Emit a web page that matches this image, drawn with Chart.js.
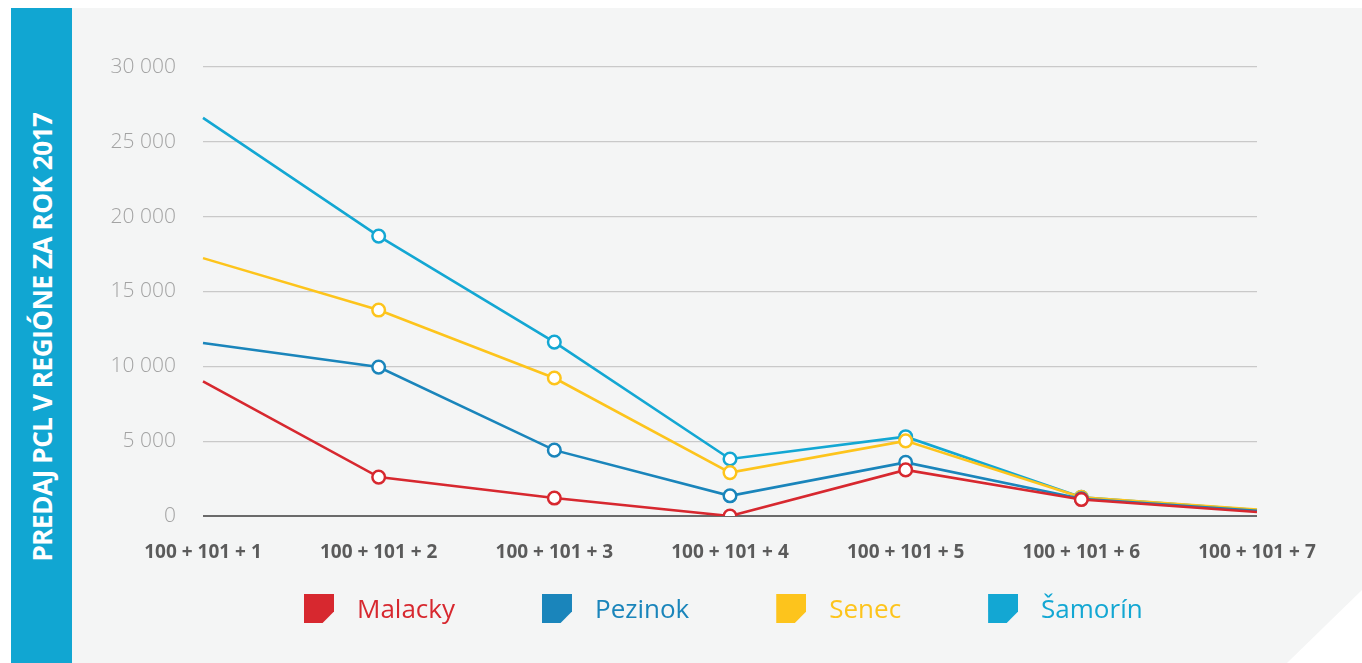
<!DOCTYPE html>
<html>
<head>
<meta charset="utf-8">
<script src="https://cdn.jsdelivr.net/npm/chart.js@4/dist/chart.umd.min.js"></script>
<style>
  html, body { margin: 0; padding: 0; background: #fff; }
  body { width: 1362px; height: 663px; position: relative; overflow: hidden; font-family: "Open Sans", sans-serif; }
  .panel {
    position: absolute; left: 72px; top: 8px; width: 1290px; height: 655px;
    background: #f4f5f5;
    clip-path: polygon(0 0, 100% 0, 100% 582px, 1215px 100%, 0 100%);
  }
  .sidebar {
    position: absolute; left: 11px; top: 8px; width: 61px; height: 655px;
    background: #11a6d2;
  }
  .sidebar span {
    position: absolute; left: 50%; top: 329px;
    transform: translate(-50%, -50%) rotate(-90deg);
    white-space: nowrap; color: #fff; font-weight: 700; font-size: 26px;
    letter-spacing: -0.4px;
  }
  #chartWrap { position: absolute; left: 0; top: 0; width: 1362px; height: 663px; }
  .legend {
    position: absolute; left: 304px; top: 594px; display: flex; align-items: center;
  }
  .legend .item { display: flex; align-items: center; margin-right: 87px; }
  .legend .box {
    width: 30px; height: 29px;
    clip-path: polygon(0 0, 100% 0, 100% 60%, 62% 100%, 0 100%);
  }
  .legend .label { margin-left: 23px; font-size: 26px; line-height: 29px; }
</style>
</head>
<body>
<div class="panel"></div>
<div class="sidebar"><span>PREDAJ PCL V REGIÓNE ZA ROK 2017</span></div>
<div id="chartWrap"><canvas id="chart" width="1362" height="663"></canvas></div>
<div class="legend" id="legend"></div>

<script>
// categories and series
const categories = ['100 + 101 + 1', '100 + 101 + 2', '100 + 101 + 3', '100 + 101 + 4', '100 + 101 + 5', '100 + 101 + 6', '100 + 101 + 7'];
const seriesNames = ['Malacky', 'Pezinok', 'Senec', 'Šamorín'];
const seriesColors = ['#d7282f', '#1a85bb', '#fdc41c', '#13a7d3'];

const malacky = [9000, 2600, 1200, 0, 3080, 1100, 270];
const pezinok = [11560, 9950, 4400, 1350, 3580, 1150, 350];
const senec = [17230, 13760, 9220, 2900, 5020, 1250, 430];
const samorin = [26600, 18700, 11620, 3810, 5300, 1250, 400];

const yTicks = [0, 5000, 10000, 15000, 20000, 25000, 30000];

(function() {
    'use strict';

    const seriesValues = [malacky, pezinok, senec, samorin];

    const fmt = (v) => String(v).replace(/\B(?=(\d{3})+(?!\d))/g, ' ');

    // first and last point carry no marker
    const radius = (ctx) => (ctx.dataIndex === 0 || ctx.dataIndex === categories.length - 1) ? 0 : 6.3;

    const datasets = seriesNames.map((name, i) => ({
        label: name,
        data: seriesValues[i],
        borderColor: seriesColors[i],
        backgroundColor: '#ffffff',
        pointBackgroundColor: '#ffffff',
        pointBorderColor: seriesColors[i],
        pointBorderWidth: 2.5,
        pointRadius: radius,
        borderWidth: 2.6,
        tension: 0
    }));

    new Chart(document.getElementById('chart'), {
        type: 'line',
        data: { labels: categories, datasets: datasets },
        options: {
            responsive: false,
            animation: false,
            events: [],
            layout: { padding: { left: 0, right: 105, top: 67, bottom: 87 } },
            plugins: { legend: { display: false }, tooltip: { enabled: false } },
            scales: {
                x: {
                    offset: false,
                    grid: { display: false, drawTicks: false },
                    border: { display: false },
                    ticks: {
                        padding: 25,
                        color: '#5b5b5b',
                        maxRotation: 0,
                        autoSkip: false,
                        font: { family: 'Open Sans', size: 19, weight: 'bold' }
                    },
                    afterFit: (scale) => { scale.height = 60; }
                },
                y: {
                    min: 0,
                    max: 30000,
                    afterBuildTicks: (scale) => { scale.ticks = yTicks.map(v => ({ value: v })); },
                    grid: {
                        drawTicks: false,
                        color: (ctx) => ctx.tick && ctx.tick.value === 0 ? '#6a6a6a' : '#c9c9c9',
                        lineWidth: (ctx) => ctx.tick && ctx.tick.value === 0 ? 2 : 1.3
                    },
                    border: { display: false },
                    ticks: {
                        padding: 27,
                        color: '#a3a3a3',
                        font: { family: 'Open Sans', size: 21, weight: 300 },
                        callback: (v) => fmt(v)
                    },
                    afterFit: (scale) => { scale.width = 203; }
                }
            }
        }
    });

    // legend
    const legend = document.getElementById('legend');
    seriesNames.forEach((name, i) => {
        const item = document.createElement('div');
        item.className = 'item';
        item.innerHTML = '<div class="box" style="background:' + seriesColors[i] + '"></div>' +
            '<div class="label" style="color:' + seriesColors[i] + '">' + name + '</div>';
        legend.appendChild(item);
    });
})();
</script>
</body>
</html>
